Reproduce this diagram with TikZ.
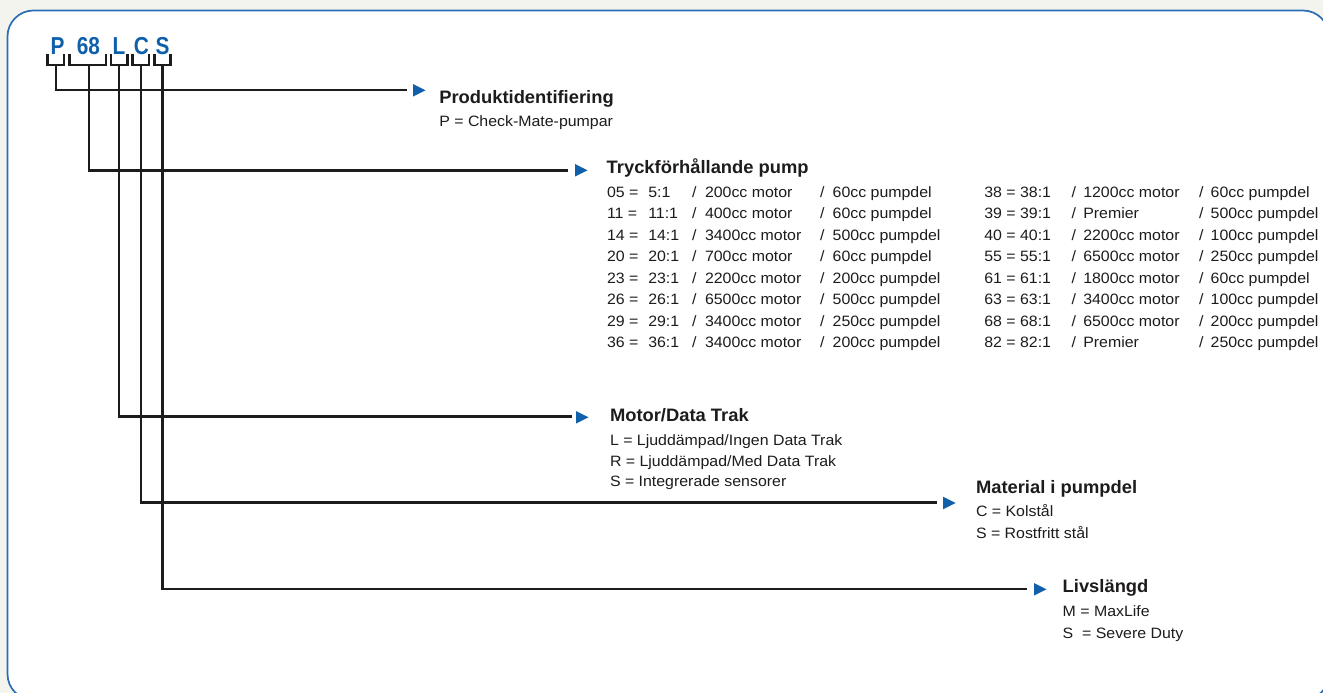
\documentclass[tikz,border=0pt]{standalone}
\usepackage{fontspec}
\newfontfamily\bodyfont{Liberation Sans}[FakeStretch=1.06]
\newfontfamily\headfont{Liberation Sans}[FakeStretch=1.02]
\newfontfamily\codefont{Liberation Sans}[FakeStretch=0.85]
\definecolor{ink}{HTML}{1E1B1C}
\definecolor{frameblue}{HTML}{2A6DB5}
\definecolor{codeblue}{HTML}{0F5FAA}
\definecolor{bgcol}{HTML}{F4F4EF}
\begin{document}
\begin{tikzpicture}[x=1pt,y=-1pt,
  bodytxt/.style={anchor=base west, inner sep=0pt, outer sep=0pt, text=ink, font=\bodyfont\fontsize{15}{18}\selectfont},
  headtxt/.style={anchor=base west, inner sep=0pt, outer sep=0pt, text=ink, font=\headfont\bfseries\fontsize{18}{22}\selectfont},
  codetxt/.style={anchor=base, inner sep=0pt, outer sep=0pt, text=codeblue, font=\codefont\bfseries\fontsize{24.5}{28}\selectfont},
  wire/.style={draw=ink, line width=2.7pt, line join=miter},
  tipfill/.style={fill=codeblue}]
\useasboundingbox (0,0) rectangle (1323,693);
\fill[bgcol] (0,0) rectangle (1323,693);
\begin{scope}
  \clip (0,0) rectangle (1323,693);
  \draw[frameblue, line width=1.7pt, fill=white, rounded corners=26pt] (7.5,10.5) rectangle (1329,700);
\end{scope}

% code letters
\node[codetxt] (cP)  at (57.5,55) {P};
\node[codetxt] (c68) at (88.5,55) {68};
\node[codetxt] (cL)  at (119,55) {L};
\node[codetxt] (cC)  at (141.5,55) {C};
\node[codetxt] (cS)  at (162.5,55) {S};

% brackets
\draw[wire] (47.7,54) |- (64,65) -- (64,54);
\draw[wire] (69.3,54) |- (106,65) -- (106,54);
\draw[wire] (111,54) |- (127.3,65) -- (127.3,54);
\draw[wire] (132.7,54) |- (149,65) -- (149,54);
\draw[wire] (154.3,54) |- (170.7,65) -- (170.7,54);

\coordinate (bP) at (56,65);
\coordinate (b68) at (89,65);
\coordinate (bL) at (119,65);
\coordinate (bC) at (141,65);
\coordinate (bS) at (162.5,65);

\coordinate (eP) at (407,90);
\coordinate (e68) at (568,170.5);
\coordinate (eL) at (572,416.5);
\coordinate (eC) at (937,502.5);
\coordinate (eS) at (1027,589);

\draw[wire] (bP) |- (eP);
\draw[wire] (b68) |- (e68);
\draw[wire] (bL) |- (eL);
\draw[wire] (bC) |- (eC);
\draw[wire] (bS) |- (eS);

% arrow triangles
\foreach \n/\x/\y in {P/413/90.3, 68/575/170.3, L/576/417.3, C/943/503, S/1034/589.3}{
  \coordinate (t\n) at (\x,\y);
  \fill[tipfill] (t\n) -- ++(0,-6.3) -- ++(12.5,6.3) -- ++(-12.5,6.3) -- cycle;
}

% Produktidentifiering
\node[headtxt] (hP) at (439.3,103.3) {Produktidentifiering};
\node[bodytxt] (sP) at (439.3,126) {P = Check-Mate-pumpar};

% Tryckforhallande
\node[headtxt] (h68) at (606.7,173.3) {Tryckförhållande pump};
\foreach \a/\b/\c/\d [count=\i from 0] in {05/5:1/200cc motor/60cc pumpdel, 11/11:1/400cc motor/60cc pumpdel, 14/14:1/3400cc motor/500cc pumpdel, 20/20:1/700cc motor/60cc pumpdel, 23/23:1/2200cc motor/200cc pumpdel, 26/26:1/6500cc motor/500cc pumpdel, 29/29:1/3400cc motor/250cc pumpdel, 36/36:1/3400cc motor/200cc pumpdel}{
  \node[bodytxt] (la\i) at (607,{197.3+21.5*\i}) {\a{} =};
  \node[bodytxt] (lb\i) at (648.3,{197.3+21.5*\i}) {\b};
  \node[bodytxt] (ls\i) at (692,{197.3+21.5*\i}) {/};
  \node[bodytxt] (lc\i) at (705,{197.3+21.5*\i}) {\c};
  \node[bodytxt] (lt\i) at (820,{197.3+21.5*\i}) {/};
  \node[bodytxt] (ld\i) at (832.7,{197.3+21.5*\i}) {\d};
}
\foreach \a/\b/\c/\d [count=\i from 0] in {38/38:1/1200cc motor/60cc pumpdel, 39/39:1/Premier/500cc pumpdel, 40/40:1/2200cc motor/100cc pumpdel, 55/55:1/6500cc motor/250cc pumpdel, 61/61:1/1800cc motor/60cc pumpdel, 63/63:1/3400cc motor/100cc pumpdel, 68/68:1/6500cc motor/200cc pumpdel, 82/82:1/Premier/250cc pumpdel}{
  \node[bodytxt] (ra\i) at (984.3,{197.3+21.5*\i}) {\a{} = \b};
  \node[bodytxt] (rs\i) at (1071.7,{197.3+21.5*\i}) {/};
  \node[bodytxt] (rc\i) at (1083.3,{197.3+21.5*\i}) {\c};
  \node[bodytxt] (rt\i) at (1199,{197.3+21.5*\i}) {/};
  \node[bodytxt] (rd\i) at (1210.7,{197.3+21.5*\i}) {\d};
}

% Motor/Data Trak
\node[headtxt] (hL) at (610,421.7) {Motor/Data Trak};
\node[bodytxt] (sL1) at (610,445.5) {L = Ljuddämpad/Ingen Data Trak};
\node[bodytxt] (sL2) at (610,466) {R = Ljuddämpad/Med Data Trak};
\node[bodytxt] (sL3) at (610,486.5) {S = Integrerade sensorer};

% Material
\node[headtxt] (hC) at (976,493) {Material i pumpdel};
\node[bodytxt] (sC1) at (976,516.7) {C = Kolstål};
\node[bodytxt] (sC2) at (976,538) {S = Rostfritt stål};

% Livslangd
\node[headtxt] (hS) at (1062.7,592.7) {Livslängd};
\node[bodytxt] (sS1) at (1062.7,616.7) {M = MaxLife};
\node[bodytxt] (sS2) at (1062.7,638) {S\ \ = Severe Duty};
\end{tikzpicture}
\end{document}
